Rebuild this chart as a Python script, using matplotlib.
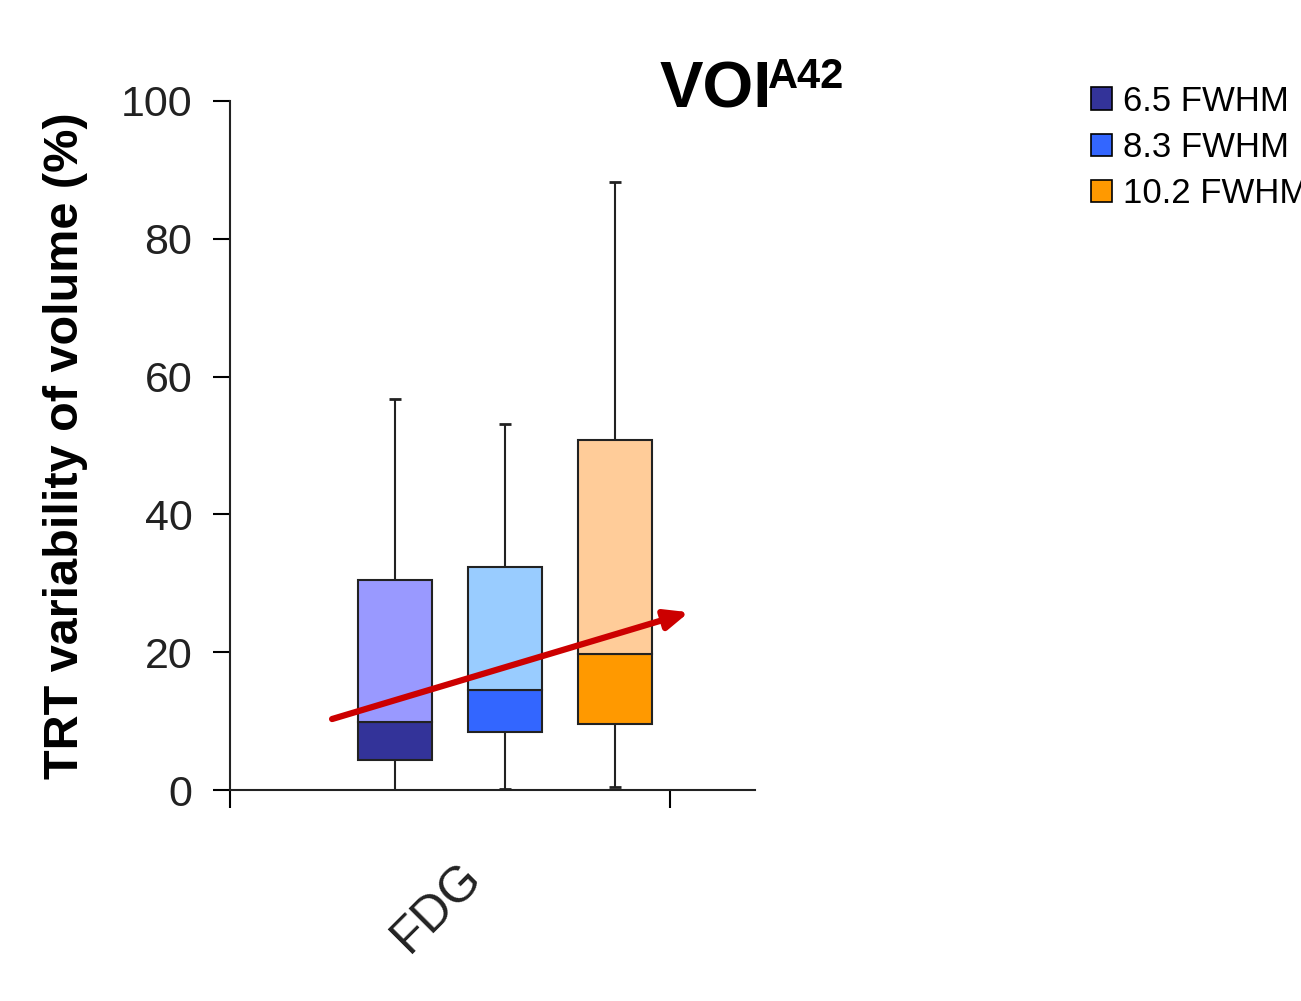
import numpy as np
import matplotlib.pyplot as plt
from matplotlib.patches import Patch

plt.rcParams['font.family'] = ['Liberation Sans', 'DejaVu Sans']

# data
labels = ["6.5 FWHM", "8.3 FWHM", "10.2 FWHM"]
positions = [0.375, 0.625, 0.875]
lo_whisker = [0.0, 0.2, 0.5]
q1 = [4.3, 8.4, 9.6]
median = [9.8, 14.5, 19.8]
q3 = [30.5, 32.3, 50.8]
hi_whisker = [56.7, 53.1, 88.2]
dark_colors = ['#333399', '#3366FF', '#FF9900']
light_colors = ['#9999FF', '#99CCFF', '#FFCC99']
trend_start = (0.232, 10.3)
trend_end = (1.043, 25.8)

W, H = 1301, 1001
fig = plt.figure(figsize=(W/100, H/100), dpi=100)
ax = fig.add_axes([230/W, (H-790)/H, 525/W, 689/H])

bw = 0.17
for i in range(3):
    p = positions[i]
    ax.vlines(p, q3[i], hi_whisker[i], color='#222222', lw=1.5, zorder=1)
    ax.vlines(p, lo_whisker[i], q1[i], color='#222222', lw=1.5, zorder=1)
    ax.hlines([hi_whisker[i], lo_whisker[i]], p-0.013, p+0.013, color='#222222', lw=2, zorder=1)
    ax.bar(p, median[i]-q1[i], bottom=q1[i], width=bw, color=dark_colors[i],
           edgecolor='#222222', lw=1.5, zorder=2)
    ax.bar(p, q3[i]-median[i], bottom=median[i], width=bw, color=light_colors[i],
           edgecolor='#222222', lw=1.5, zorder=2)

ax.annotate('', xy=trend_end, xytext=trend_start,
            arrowprops=dict(arrowstyle='-|>,head_length=1.4,head_width=0.6',
                            color='#CC0000', lw=4.5, shrinkA=0, shrinkB=0),
            zorder=5)

ax.set_xlim(0, 525/440)
ax.set_ylim(0, 100)
ax.set_yticks([0, 20, 40, 60, 80, 100])
ax.set_xticks([0, 1])
ax.set_xticklabels([])
ax.set_xticks([0.47], minor=True)
ax.set_xticklabels(["FDG"], minor=True, rotation=45, ha='center', va='top')
ax.tick_params(axis='x', which='major', length=13, width=1.5, direction='out')
ax.tick_params(axis='x', which='minor', length=0, pad=46, labelsize=36, labelcolor='#222222')
ax.tick_params(axis='y', length=12, width=1.5, direction='out', labelsize=31,
               labelcolor='#222222', pad=15)
for s in ['top', 'right']:
    ax.spines[s].set_visible(False)
for s in ['left', 'bottom']:
    ax.spines[s].set_linewidth(1.5)
    ax.spines[s].set_color('#222222')

ax.set_ylabel("TRT variability of volume (%)", fontsize=35, fontweight='bold', labelpad=24)

fig.text(660/W, (H-107)/H, "VOI", fontsize=47, fontweight='bold', va='baseline')
fig.text(768/W, (H-88)/H, "A42", fontsize=30, fontweight='bold', va='baseline')

handles = [Patch(facecolor=c, edgecolor='black', lw=1.2) for c in dark_colors]
fig.legend(handles, labels, loc='upper left', bbox_to_anchor=(1084/W, (H-78)/H),
           frameon=False, fontsize=25, handlelength=0.62, handleheight=0.62,
           handletextpad=0.3, labelspacing=0.38, borderaxespad=0, borderpad=0.2)

fig.savefig('out.png', dpi=100)
